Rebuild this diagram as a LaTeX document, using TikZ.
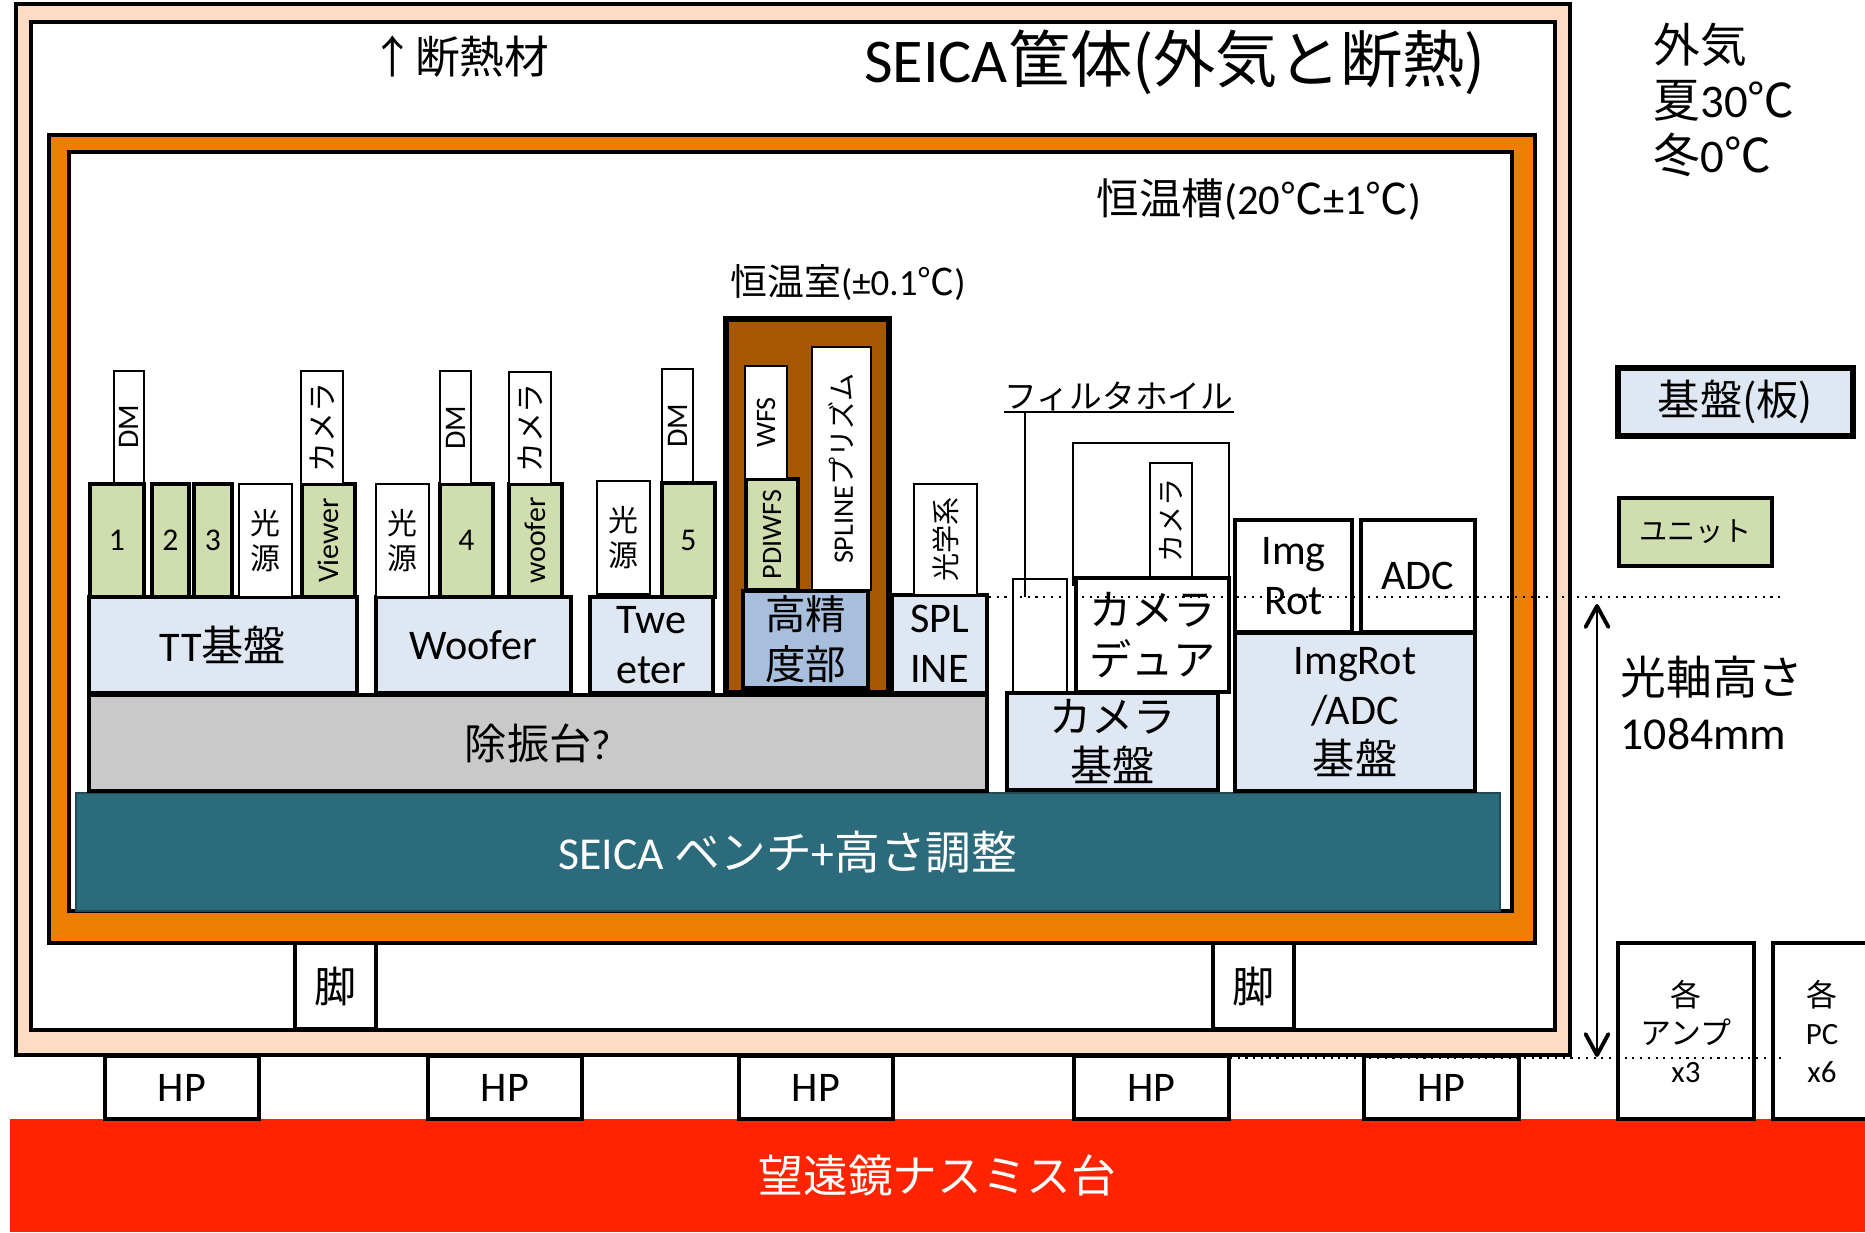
\documentclass[tikz,border=0pt]{standalone}
\usepackage{fontspec}
\setmainfont{Carlito}
\newfontfamily\jpfont{Noto Sans CJK JP}
\newcommand{\jtx}[1]{{\jpfont #1}}
\usepackage{graphicx}
\usepackage{tikz}
\usetikzlibrary{arrows.meta,positioning}
\definecolor{SeicaPeach}{HTML}{FCDCC4}
\definecolor{SeicaOrange}{HTML}{EC7E04}
\definecolor{SeicaBrown}{HTML}{A65800}
\definecolor{SeicaPlate}{HTML}{DFE7F2}
\definecolor{SeicaUnit}{HTML}{D0DEAF}
\definecolor{SeicaPrecise}{HTML}{A7BFDD}
\definecolor{SeicaGray}{HTML}{C9C9C9}
\definecolor{SeicaTeal}{HTML}{2B6B7B}
\definecolor{SeicaRed}{HTML}{FF2300}
\definecolor{SeicaInk}{HTML}{000000}
% box from corner (x1,y1) to corner (x2,y2), in pixels
\newcommand{\blk}[7]{%
  \node[#1,minimum width={(#5-#3)*0.01cm},minimum height={(#6-#4)*0.01cm}]
    (#2) at ({(#3+#5)/2},{(#4+#6)/2}) {#7};}
\tikzset{
  shell/.style={draw=SeicaInk,line width=1.4pt,inner sep=0pt},
  plate/.style={draw=SeicaInk,line width=1.4pt,fill=SeicaPlate,inner sep=0pt,
    align=center,font=\fontsize{12}{14.2}\selectfont},
  whiteplate/.style={plate,fill=white},
  unitbox/.style={draw=SeicaInk,line width=0.9pt,fill=SeicaUnit,inner sep=0pt,
    align=center,font=\fontsize{8.5}{10}\selectfont},
  partbox/.style={draw=SeicaInk,line width=0.7pt,fill=white,inner sep=0pt,
    align=center,font=\fontsize{8.5}{10}\selectfont},
  thinbox/.style={draw=SeicaInk,line width=0.45pt,fill=white,inner sep=0pt},
  numfont/.style={font=\fontsize{9}{11}\selectfont},
  smallfont/.style={font=\fontsize{8}{10}\selectfont},
  axisline/.style={draw=SeicaInk,line width=0.6pt,dash pattern=on 0.6pt off 1.6pt},
}
\begin{document}
\begin{tikzpicture}[x=0.01cm,y=-0.01cm,>={Straight Barb[length=6pt,width=6.5pt,line width=1.1pt,round]}]
  \useasboundingbox (0,0) rectangle (1865,1232);
  \fill[white] (0,0) rectangle (1865,1232);
  % Nasmyth platform and HP
  \blk{fill=SeicaRed,inner sep=0pt,text=white,font=\fontsize{12.7}{15}\selectfont}{nasmyth}
    {10}{1119}{1865}{1232}{\jtx{望遠鏡ナスミス台}}
  \foreach \xa/\xb [count=\i] in {105/259,428/582,739/893,1074/1229,1364/1519}
    {\blk{whiteplate}{hp\i}{\xa}{1056}{\xb}{1119}{HP}}
  % housing, insulation, thermostat
  \blk{shell,fill=SeicaPeach}{housing}{16}{4}{1570}{1055}{}
  \blk{shell,fill=white}{insul}{31}{22}{1555}{1030}{}
  \blk{shell,fill=SeicaOrange}{tank}{49}{135}{1535}{943}{}
  \blk{shell,fill=white}{tankin}{69}{152}{1512}{911}{}
  \foreach \xa/\xb [count=\i] in {295/376,1213/1294}
    {\blk{whiteplate}{leg\i}{\xa}{943}{\xb}{1029}{\jtx{脚}}}
  % bench and bases
  \blk{draw=SeicaTeal!70!black,line width=0.5pt,fill=SeicaTeal,inner sep=0pt,text=white,
    font=\fontsize{13}{15}\selectfont}{bench}{76}{793}{1500}{911}
    {SEICA \jtx{ベンチ}+\jtx{高さ調整}}
  \blk{plate,fill=SeicaGray}{damper}{89}{695}{987}{791}{\jtx{除振台}?}
  \blk{plate}{ttbase}{89}{597}{357}{693}{TT\jtx{基盤}}
  \blk{plate}{wfbase}{376}{597}{571}{693}{Woofer}
  \blk{plate}{twbase}{590}{597}{713}{693}{Twe\\eter}
  \blk{plate}{spbase}{892}{595}{987}{693}{SPL\\INE}
  \blk{plate}{cambase}{1007}{693}{1218}{790}{\jtx{カメラ}\\\jtx{基盤}}
  \blk{plate}{irbase}{1235}{633}{1475}{791}{ImgRot\\/ADC\\\jtx{基盤}}
  % TT units
  \blk{partbox}{dm1}{114}{371}{144}{483}{\rotatebox{90}{DM}}
  \blk{unitbox,numfont}{u1}{90}{484}{144}{597}{1}
  \blk{unitbox,numfont}{u2}{152}{484}{189}{597}{2}
  \blk{unitbox,numfont}{u3}{194}{484}{232}{597}{3}
  \blk{partbox}{src1}{239}{484}{292}{597}{\jtx{光}\\\jtx{源}}
  \blk{unitbox}{viewer}{302}{484}{355}{597}{\rotatebox{90}{Viewer}}
  \blk{partbox}{cam1}{301}{371}{343}{484}{\rotatebox{90}{\jtx{カメラ}}}
  % woofer units
  \blk{partbox}{src2}{376}{484}{429}{597}{\jtx{光}\\\jtx{源}}
  \blk{unitbox,numfont}{u4}{440}{484}{493}{597}{4}
  \blk{partbox}{dm2}{440}{371}{471}{484}{\rotatebox{90}{DM}}
  \blk{unitbox}{woofer}{509}{484}{562}{597}{\rotatebox{90}{woofer}}
  \blk{partbox}{cam2}{509}{372}{551}{484}{\rotatebox{90}{\jtx{カメラ}}}
  % tweeter units
  \blk{partbox}{src3}{597}{481}{650}{594}{\jtx{光}\\\jtx{源}}
  \blk{unitbox,numfont}{u5}{662}{483}{715}{597}{5}
  \blk{partbox}{dm3}{662}{369}{693}{482}{\rotatebox{90}{DM}}
  % thermostatic room
  \blk{shell,line width=1.6pt,fill=SeicaBrown}{room}{726}{319}{889}{693}{}
  \blk{plate,fill=SeicaPrecise,font=\fontsize{11.5}{14.2}\selectfont}{precise}
    {743}{591}{868}{688}{\jtx{高精}\\\jtx{度部}}
  \blk{unitbox,smallfont}{pdiwfs}{746}{479}{798}{590}{\rotatebox{90}{PDIWFS}}
  \blk{partbox,smallfont}{wfs}{745}{366}{787}{479}{\rotatebox{90}{WFS}}
  \blk{partbox,smallfont}{prism}{812}{347}{871}{590}{\rotatebox{90}{SPLINE\jtx{プリズム}}}
  \blk{partbox,smallfont}{optics}{914}{484}{977}{595}{\rotatebox{90}{\jtx{光学系}}}
  % camera side
  \blk{thinbox}{filter}{1013}{579}{1067}{692}{}
  \blk{thinbox}{camframe}{1073}{443}{1229}{585}{}
  \blk{partbox,smallfont}{camsmall}{1150}{463}{1192}{578}{\rotatebox{90}{\jtx{カメラ}}}
  \blk{whiteplate}{dewar}{1076}{578}{1229}{692}{\jtx{カメラ}\\\jtx{デュア}}
  \blk{whiteplate}{imgrot}{1235}{520}{1352}{632}{Img\\Rot}
  \blk{whiteplate}{adc}{1361}{520}{1475}{632}{ADC}
  % texts
  \node[font=\fontsize{17.7}{21}\selectfont] (title) at (1175,62)
    {SEICA\jtx{筐体(外気と断熱)}};
  \node[font=\fontsize{12.7}{15}\selectfont] (insultxt) at (460,57) {\jtx{↑断熱材}};
  \node[font=\fontsize{13.3}{15.6}\selectfont,align=left,anchor=west,inner sep=0pt] (outside)
    at (1653,100) {\jtx{外気}\\\jtx{夏}30\jtx{℃}\\\jtx{冬}0\jtx{℃}};
  \node[font=\fontsize{12.1}{14}\selectfont] (tanktxt) at (1259,200)
    {\jtx{恒温槽}(20\jtx{℃}±1\jtx{℃})};
  \node[font=\fontsize{10.5}{12}\selectfont] (roomtxt) at (848,283)
    {\jtx{恒温室}(±0.1\jtx{℃})};
  \node[font=\fontsize{9.3}{11}\selectfont,inner sep=0pt,anchor=south] (fwtxt) at (1119,412)
    {\jtx{フィルタホイル}};
  \draw[line width=0.65pt] (fwtxt.south west) -- (fwtxt.south east);
  \coordinate (fwfoot) at (1025,597);
  \draw[line width=0.5pt] (fwfoot |- fwtxt.south) -- (fwfoot);
  % legend
  \blk{plate,line width=1.6pt}{legplate}{1618}{368}{1853}{436}{\jtx{基盤(板)}}
  \blk{unitbox,line width=1.1pt,smallfont}{legunit}{1619}{498}{1772}{566}{\jtx{ユニット}}
  \blk{whiteplate,font=\fontsize{8.8}{10.8}\selectfont}{amp}{1618}{943}{1754}{1119}
    {\jtx{各}\\\jtx{アンプ}\\x3}
  \blk{whiteplate,font=\fontsize{8.8}{10.8}\selectfont}{pc}{1773}{943}{1871}{1119}
    {\jtx{各}\\PC\\x6}
  % optical axis height
  \node[font=\fontsize{13}{15.6}\selectfont,align=left,anchor=west,inner sep=0pt] (axistxt)
    at (1620,703) {\jtx{光軸高さ}\\1084mm};
  \coordinate (axisL) at (989,597);
  \coordinate (axisR) at (1785,597);
  \coordinate (floorL) at (1230,1058);
  \coordinate (floorR) at (1785,1058);
  \draw[axisline] (axisL) -- (axisR);
  \draw[axisline] (floorL) -- (floorR);
  \coordinate (axtop) at (1597,604);
  \coordinate (axbot) at (1597,1057);
  \draw[<->,line width=0.65pt] (axtop) -- (axbot);
\end{tikzpicture}
\end{document}
